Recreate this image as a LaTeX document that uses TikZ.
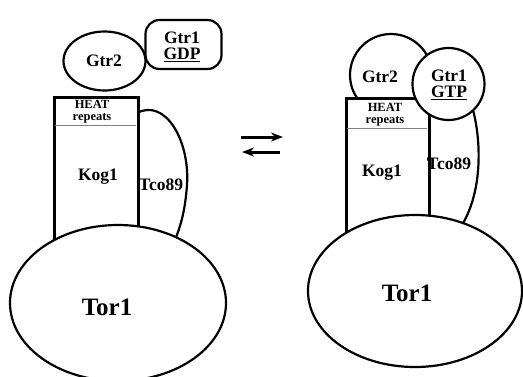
\documentclass[tikz,border=0pt]{standalone}
\usepackage{fontspec}
\setmainfont{Liberation Serif}
\usetikzlibrary{shapes.geometric,arrows.meta}
\tikzset{
  blob/.style={draw,line width=2.2pt,fill=white,ellipse,inner sep=0pt},
  ball/.style={draw,line width=2.2pt,fill=white,circle,inner sep=0pt},
  kogbox/.style={draw,line width=3pt,fill=white},
  divider/.style={draw=gray,line width=0.9pt},
  tcoline/.style={draw,line width=2.2pt},
  lbl/.style={font=\bfseries\fontsize{17.5}{16}\selectfont,inner sep=0pt,align=center},
  small/.style={font=\bfseries\fontsize{12.5}{12}\selectfont,inner sep=0pt,align=center},
  big/.style={font=\bfseries\fontsize{25}{25}\selectfont,inner sep=0pt},
  eqarrow/.style={line width=3pt,-{Stealth[length=12pt,width=9pt]}}
}
\begin{document}
\begin{tikzpicture}[x=1pt,y=-1pt]
\useasboundingbox (0,0) rectangle (523,376);
\clip (0,0) rectangle (523,376);
% ---------------- left complex ----------------
\node[blob,minimum width=82pt,minimum height=59pt] (gtrtwoL) at (104.5,61) {};
\node[lbl] (gtrtwoLt) at (104,61) {Gtr2};
\node[draw,line width=2.2pt,rounded corners=14pt,minimum width=76pt,minimum height=49pt,inner sep=0pt] (gtroneL) at (183.5,44.5) {};
\node[lbl] (gtroneLt) at (182,47) {Gtr1\\\underline{GDP}};
\draw[tcoline] (137,113) .. controls (165,98) and (190,140) .. (187,185) .. controls (185,213) and (180,228) .. (173,245) coordinate (tcoendL);
\node[kogbox,minimum width=84pt,minimum height=170pt,inner sep=0pt,anchor=north west] (kogL) at (53,96) {};
\draw[divider] (54.5,125) -- (135.5,125);
\node[small] (heatL) at (92,112) {HEAT\\repeats};
\node[lbl] (kogLt) at (98,177) {Kog1};
\node[lbl] (tcoLt) at (161,185) {Tco89};
\node[blob,minimum width=216pt,minimum height=156pt] (torL) at (118,303) {};
\node[big] (torLt) at (107,307) {Tor1};
% ---------------- arrows ----------------
\coordinate (fwdA) at (241,137);
\coordinate (fwdB) at (283,137);
\coordinate (revA) at (280,152);
\coordinate (revB) at (242,152);
\draw[eqarrow] (fwdA) -- (fwdB);
\draw[eqarrow] (revA) -- (revB);
% ---------------- right complex ----------------
\node[ball,minimum size=82pt] (gtrtwoR) at (391,75) {};
\node[lbl] (gtrtwoRt) at (380,77) {Gtr2};
\node[kogbox,minimum width=83pt,minimum height=160pt,inner sep=0pt,anchor=north west] (kogR) at (345,97) {};
\draw[divider] (346.5,128) -- (426.5,128);
\node[small] (heatR) at (385,115) {HEAT\\repeats};
\node[lbl] (kogRt) at (382,173) {Kog1};
\draw[tcoline] (473,110) .. controls (481,140) and (483,190) .. (462,225) coordinate (tcoendR);
\node[lbl] (tcoRt) at (449,164) {Tco89};
\node[ball,minimum size=72pt] (gtroneR) at (448.5,84) {};
\node[lbl] (gtroneRt) at (449,85) {Gtr1\\\underline{GTP}};
\node[blob,minimum width=214pt,minimum height=152pt] (torR) at (415,291) {};
\node[big] (torRt) at (407,293) {Tor1};
\end{tikzpicture}
\end{document}
